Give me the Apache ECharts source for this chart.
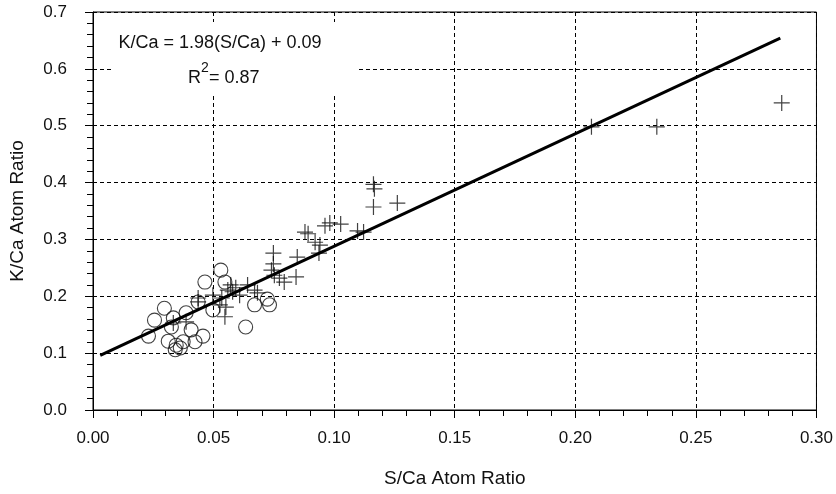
<!DOCTYPE html>
<html>
<head>
<meta charset="utf-8">
<script src="https://cdn.jsdelivr.net/npm/echarts@6/dist/echarts.min.js"></script>
<style>
html,body{margin:0;padding:0;background:#fff;}
#chart{width:836px;height:494px;}
</style>
</head>
<body>
<div id="chart"></div>
<script>
// Circles (o) : [S/Ca, K/Ca]
const circlePoints = [
  [0.023,0.130],[0.0255,0.158],[0.0296,0.179],[0.0333,0.162],[0.0325,0.146],
  [0.0312,0.121],[0.0345,0.114],[0.0362,0.109],[0.0341,0.106],[0.0374,0.120],
  [0.0423,0.120],[0.0456,0.130],[0.0407,0.141],[0.0386,0.171],[0.0436,0.190],
  [0.0464,0.225],[0.053,0.246],[0.0547,0.225],[0.0497,0.176],[0.0633,0.146],
  [0.067,0.185],[0.0723,0.195],[0.0732,0.185]
];
// Crosses (+) : [S/Ca, K/Ca]
const crossPoints = [
  [0.2856,0.540],[0.2338,0.498],[0.2067,0.498],[0.1163,0.397],[0.1167,0.389],
  [0.1163,0.357],[0.1262,0.364],[0.0879,0.313],[0.0892,0.310],[0.0921,0.295],
  [0.0941,0.290],[0.0937,0.276],[0.0962,0.324],[0.0982,0.329],[0.1027,0.327],
  [0.1097,0.315],[0.1122,0.313],[0.0748,0.276],[0.0748,0.257],[0.074,0.246],
  [0.0752,0.237],[0.0773,0.232],[0.0793,0.225],[0.0842,0.234],[0.0847,0.269],
  [0.067,0.211],[0.0641,0.220],[0.0571,0.220],[0.0579,0.208],[0.0559,0.211],
  [0.0592,0.215],[0.0497,0.202],[0.0534,0.197],[0.0551,0.181],[0.0547,0.164],
  [0.0436,0.197],[0.0608,0.202],[0.0682,0.206],[0.0386,0.155],[0.0333,0.153],
  [0.0436,0.190],[0.0526,0.185]
];
// Regression line endpoints (as drawn)
const fitLine = [[0.003,0.096],[0.285,0.654]];
const equationText = 'K/Ca = 1.98(S/Ca) + 0.09';
const r2Label = ['R','2','= 0.87'];
const xAxisTitle = 'S/Ca Atom Ratio';
const yAxisTitle = 'K/Ca Atom Ratio';

const FONT = '"Liberation Sans", Arial, Helvetica, sans-serif';
const chart = echarts.init(document.getElementById('chart'), null, {renderer:'canvas'});
const crossSym = 'path://M7.4,0H8.6V16H7.4Z M0,7.4H16V8.6H0Z';

chart.setOption({
  animation:false,
  backgroundColor:'#fff',
  grid:{left:89,right:17,top:12,bottom:84,show:true,borderColor:'#000',borderWidth:1,backgroundColor:'transparent'},
  xAxis:{
    type:'value',min:0,max:0.3,interval:0.05,
    name:xAxisTitle,nameLocation:'middle',nameGap:59,
    nameTextStyle:{fontFamily:FONT,fontSize:19,color:'#111'},
    axisLine:{show:true,onZero:false,lineStyle:{color:'#000',width:1}},
    axisTick:{show:true,inside:false,length:8,lineStyle:{color:'#000'}},
    minorTick:{show:true,splitNumber:5,length:6,lineStyle:{color:'#000'}},
    axisLabel:{fontFamily:FONT,fontSize:17,color:'#111',margin:20,formatter:v=>v.toFixed(2)},
    splitLine:{show:true,lineStyle:{color:'#000',type:[4,3],width:1}}
  },
  yAxis:{
    type:'value',min:0,max:0.7,interval:0.1,
    name:yAxisTitle,nameLocation:'middle',nameGap:66,nameRotate:90,
    nameTextStyle:{fontFamily:FONT,fontSize:19,color:'#111'},
    axisLine:{show:true,onZero:false,lineStyle:{color:'#000',width:1}},
    axisTick:{show:true,inside:false,length:8,lineStyle:{color:'#000'}},
    minorTick:{show:true,splitNumber:5,length:6,lineStyle:{color:'#000'}},
    axisLabel:{fontFamily:FONT,fontSize:17,color:'#111',margin:26,formatter:v=>v.toFixed(1)},
    splitLine:{show:true,lineStyle:{color:'#000',type:[4,3],width:1}}
  },
  graphic:[
    {type:'rect',left:112,top:22,z:50,shape:{width:244,height:71},style:{fill:'#fff'}},
    {type:'text',z:51,x:220,y:43,style:{text:equationText,font:'18px '+FONT,fill:'#111',textAlign:'center',textVerticalAlign:'middle'}},
    {type:'text',z:51,x:201,y:78,style:{text:r2Label[0],font:'18px '+FONT,fill:'#111',textAlign:'right',textVerticalAlign:'middle'}},
    {type:'text',z:51,x:201,y:68,style:{text:r2Label[1],font:'14px '+FONT,fill:'#111',textAlign:'left',textVerticalAlign:'middle'}},
    {type:'text',z:51,x:209,y:78,style:{text:r2Label[2],font:'18px '+FONT,fill:'#111',textAlign:'left',textVerticalAlign:'middle'}}
  ],
  series:[
    {type:'scatter',data:circlePoints,symbol:'circle',symbolSize:14,z:3,
     itemStyle:{color:'rgba(0,0,0,0)',borderColor:'#111',borderWidth:1.1}},
    {type:'scatter',data:crossPoints,symbol:crossSym,symbolSize:16,z:4,
     itemStyle:{color:'#111'}},
    {type:'line',data:fitLine,symbol:'none',z:5,lineStyle:{color:'#000',width:3}}
  ]
});
</script>
</body>
</html>
